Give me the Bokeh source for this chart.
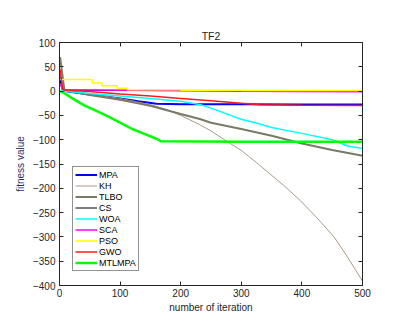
from bokeh.plotting import figure
from bokeh.models import Legend, LegendItem, LinearAxis, FixedTicker, Range1d
from bokeh.embed import file_html
from bokeh.resources import INLINE

# ---- data ----
mpa_x = [1, 5, 8, 50, 100, 130, 160, 200, 300, 400, 500]
mpa_y = [30, 3, 0, -7, -15, -21, -26, -27, -27.3, -27.5, -27.6]

kh_x = [1, 6, 10, 50, 100, 150, 175, 200, 233, 250, 282, 300, 325, 343, 370, 398, 425, 453, 475, 500]
kh_y = [40, 2, 0, -6, -15, -28, -37, -50, -70, -82, -108, -122, -147, -166, -194, -226, -261, -300, -341, -391]

tlbo_x = [1, 8, 50, 100, 150, 200, 233, 250, 300, 350, 400, 450, 500]
tlbo_y = [70, 2, -8, -18, -30, -47, -58, -65, -78, -92, -108, -121, -133]

cs_x = [1, 5, 100, 300, 500]
cs_y = [20, 2, 1.5, 1.2, 1]

woa_x = [1, 6, 50, 100, 150, 200, 233, 250, 300, 323, 350, 400, 450, 475, 500]
woa_y = [15, 0, -5, -10, -15, -21, -28, -35, -58, -65, -75, -87, -100, -113, -118]

sca_x = [1, 6, 100, 200, 300, 500]
sca_y = [15, 3, 2, 0.5, -0.5, -1.5]

pso_x = [1, 54, 70, 95, 112, 200, 300, 500]
pso_y = [24, 16.5, 11, 6, 3, 1.5, 1, 0.5]

gwo_x = [1, 5, 10, 50, 100, 150, 200, 250, 300, 330, 400, 500]
gwo_y = [45, 5, 2, -1, -6, -10, -15, -20, -25, -28, -29, -29.5]

mtlmpa_x = [1, 10, 20, 40, 60, 80, 100, 120, 140, 160, 167, 300, 500]
mtlmpa_y = [0, -6, -14, -29, -40, -52, -65, -78, -88, -98, -103, -104, -104]

x_ticks = [0, 100, 200, 300, 400, 500]
y_ticks = [-400, -350, -300, -250, -200, -150, -100, -50, 0, 50, 100]

FONT = "Liberation Sans"

p = figure(frame_width=303, frame_height=243, output_backend="svg", toolbar_location=None,
           x_range=Range1d(0, 500), y_range=Range1d(-400, 100),
           min_border_left=59, min_border_right=44, min_border_top=42, min_border_bottom=34,
           title="TF2")
p.title.align = "center"
p.title.text_font = FONT
p.title.text_font_size = "10.5px"
p.title.text_font_style = "normal"
p.title.text_color = "#262626"
p.title.standoff = 2

p.grid.visible = False
p.outline_line_color = "#262626"
p.outline_line_width = 1

def style_axis(ax, labels=True):
    ax.major_tick_in = 4
    ax.major_tick_out = 0
    ax.minor_tick_in = 0
    ax.minor_tick_out = 0
    ax.axis_line_color = "#262626"
    ax.major_tick_line_color = "#262626"
    ax.major_label_text_font = FONT
    ax.major_label_text_font_size = "10px"
    ax.major_label_text_color = "#262626"
    ax.axis_label_text_font = FONT
    ax.axis_label_text_font_size = "10px"
    ax.axis_label_text_font_style = "normal"
    if not labels:
        ax.major_label_text_font_size = "0px"
        ax.major_label_text_alpha = 0

p.xaxis.ticker = FixedTicker(ticks=x_ticks)
p.yaxis.ticker = FixedTicker(ticks=y_ticks)
style_axis(p.xaxis[0])
style_axis(p.yaxis[0])
p.xaxis.axis_label = "number of iteration"
p.xaxis.axis_label_text_color = "#262626"
p.xaxis.major_label_standoff = 3
p.xaxis.axis_label_standoff = 2
p.yaxis.axis_label = "fitness value"
p.yaxis.axis_label_text_color = "#1f3068"
p.yaxis.major_label_standoff = 4
p.yaxis.axis_label_standoff = 4

ax_r = LinearAxis(ticker=FixedTicker(ticks=y_ticks))
style_axis(ax_r, labels=False)
p.add_layout(ax_r, "right")
ax_t = LinearAxis(ticker=FixedTicker(ticks=x_ticks))
style_axis(ax_t, labels=False)
p.add_layout(ax_t, "above")

r_mpa = p.line(mpa_x, mpa_y, line_color="#0000ff", line_width=2)
r_kh = p.line(kh_x, kh_y, line_color="#a89a88", line_width=1)
r_tlbo = p.line(tlbo_x, tlbo_y, line_color="#7a7a66", line_width=2)
r_cs = p.line(cs_x, cs_y, line_color="#000000", line_width=1)
r_woa = p.line(woa_x, woa_y, line_color="#00ffff", line_width=1.5)
r_sca = p.line(sca_x, sca_y, line_color="#ff00ff", line_width=1.5)
r_pso = p.step(pso_x, pso_y, mode="after", line_color="#ffff00", line_width=1.5)
r_gwo = p.line(gwo_x, gwo_y, line_color="#ff1a1a", line_width=1.5)
r_mtl = p.line(mtlmpa_x, mtlmpa_y, line_color="#00ff00", line_width=2.5)

names = ["MPA", "KH", "TLBO", "CS", "WOA", "SCA", "PSO", "GWO", "MTLMPA"]
rends = [r_mpa, r_kh, r_tlbo, r_cs, r_woa, r_sca, r_pso, r_gwo, r_mtl]
legend = Legend(items=[LegendItem(label=n, renderers=[r]) for n, r in zip(names, rends)],
                location=(13, 14), margin=0, padding=2, spacing=0,
                label_height=11, glyph_height=11, glyph_width=22, label_standoff=2,
                label_text_font=FONT, label_text_font_size="9px", label_text_color="#000000",
                border_line_color="#262626", border_line_width=1,
                background_fill_color="white", background_fill_alpha=1)
p.add_layout(legend, "center")

open("out.html", "w").write(file_html(p, INLINE))
